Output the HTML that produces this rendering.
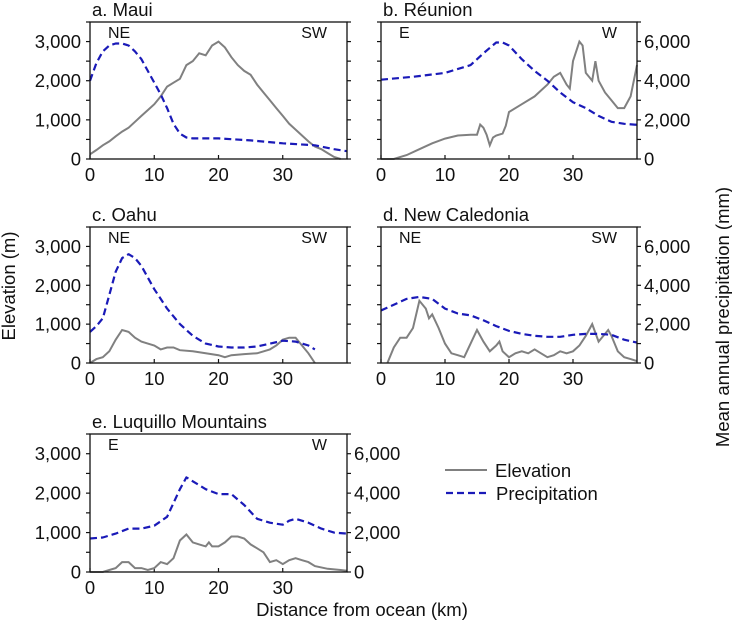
<!DOCTYPE html>
<html><head><meta charset="utf-8"><style>
body{margin:0;background:#fff}
svg{display:block;font-family:"Liberation Sans",sans-serif}
</style></head><body>
<svg id="c" width="732" height="625" viewBox="0 0 732 625"></svg>
<script>
// Panel data: distance (km), elevation (m), precipitation (mm)
const aDist=[0,1,2,3,4,5,6,7,8,9,10,11,12,13,14,15,16,17,18,19,20,21,22,23,24,25,26,27,28,29,30,31,32,33,34,35,36,37,38,39];
const aElev=[120,230,350,450,580,700,800,950,1100,1250,1400,1600,1850,1950,2050,2400,2500,2700,2650,2900,3000,2850,2600,2400,2250,2150,1900,1700,1500,1300,1100,900,750,600,450,320,250,150,50,0];
const aPDist=[0,1,2,3,4,5,6,7,8,9,10,11,12,13,14,15,16,20,25,30,35,38,40];
const aPrec=[4000,4900,5500,5800,5900,5900,5800,5500,5100,4500,3900,3300,2600,1800,1300,1100,1050,1050,950,800,700,500,400];

const bDist=[0,2,4,6,8,10,12,14,15,15.5,16,16.5,17,17.5,18,19,19.5,20,22,24,26,27,28,29,29.5,30,31,31.5,32,33,33.5,34,35,36,37,38,39,40];
const bElev=[0,0,100,250,400,520,600,620,620,880,800,620,350,550,600,650,850,1200,1400,1600,1900,2100,2200,1900,1800,2500,3000,2900,2200,2000,2500,2000,1700,1500,1300,1300,1600,2400];
const bPDist=[0,5,10,14,16,18,19,20,22,24,26,28,30,32,34,36,38,40];
const bPrec=[4050,4200,4400,4800,5400,5950,5950,5800,5100,4500,4000,3400,2900,2600,2200,1900,1800,1750];

const cDist=[0,1,2,3,4,5,6,7,8,9,10,11,12,13,14,16,18,20,21,22,24,26,28,29,30,31,32,33,34,35];
const cElev=[0,100,150,300,600,850,800,650,550,500,450,350,400,400,330,300,250,200,150,200,230,250,350,450,600,650,650,450,250,0];
const cPDist=[0,1,2,3,4,5,6,7,8,9,10,12,14,16,18,20,22,24,26,28,30,32,34,35];
const cPrec=[1600,1900,2300,3500,4700,5400,5600,5400,5000,4400,3800,2800,2000,1400,1000,850,800,800,850,1000,1150,1100,900,700];

const dDist=[1,2,3,4,5,6,7,7.5,8,9,10,11,12,13,14,15,16,17,18,18.5,19,20,21,22,23,24,25,26,27,28,29,30,31,32,33,34,35,35.5,36,37,38,39,40];
const dElev=[0,400,650,650,900,1600,1400,1150,1250,900,500,250,200,150,500,850,550,300,450,550,300,150,250,300,250,350,250,150,200,300,250,300,450,700,1000,550,750,850,700,300,150,100,50];
const dPDist=[0,2,4,6,8,10,12,14,16,18,20,22,24,26,28,30,32,34,36,38,40];
const dPrec=[2700,3000,3300,3400,3300,2800,2550,2450,2200,1900,1650,1500,1400,1350,1350,1450,1500,1500,1450,1200,1050];

const eDist=[0,2,3,4,5,6,7,8,9,10,11,12,13,14,15,16,17,18,18.5,19,20,21,22,23,24,25,26,27,28,29,30,31,32,33,34,35,37,39,40];
const eElev=[0,0,50,100,250,250,100,100,50,100,250,200,350,800,950,750,700,650,750,650,650,750,900,900,850,700,600,500,250,300,200,300,350,300,250,150,80,50,30];
const ePDist=[0,2,4,6,8,10,12,14,15,16,18,20,22,24,26,28,30,31,32,34,36,38,40];
const ePrec=[1700,1750,1950,2200,2200,2350,2800,4200,4800,4600,4200,3950,3950,3400,2700,2500,2400,2600,2700,2500,2200,2000,1950];

const xTicks=[0,10,20,30];
const elevLabels=[0,1000,2000,3000];
const precLabels=[0,2000,4000,6000];

const NS='http://www.w3.org/2000/svg';
const svg=document.getElementById('c');
function mk(tag,attrs,parent){const e=document.createElementNS(NS,tag);for(const k in attrs)e.setAttribute(k,attrs[k]);(parent||svg).appendChild(e);return e;}

const FS=18.5;
const panels=[
 {id:'maui',title:'a. Maui',x0:90,x1:347,y0:22,y1:159,d:aDist,e:aElev,pd:aPDist,p:aPrec,left:true,right:false,l:'NE',r:'SW'},
 {id:'reunion',title:'b. Réunion',x0:381,x1:637,y0:22,y1:159,d:bDist,e:bElev,pd:bPDist,p:bPrec,left:false,right:true,l:'E',r:'W'},
 {id:'oahu',title:'c. Oahu',x0:90,x1:347,y0:227,y1:363,d:cDist,e:cElev,pd:cPDist,p:cPrec,left:true,right:false,l:'NE',r:'SW'},
 {id:'new-caledonia',title:'d. New Caledonia',x0:381,x1:637,y0:227,y1:363,d:dDist,e:dElev,pd:dPDist,p:dPrec,left:false,right:true,l:'NE',r:'SW'},
 {id:'luquillo',title:'e. Luquillo Mountains',x0:90,x1:347,y0:434,y1:572,d:eDist,e:eElev,pd:ePDist,p:ePrec,left:true,right:true,l:'E',r:'W'}
];

panels.forEach(P=>{
 const g=mk('g',{});
 
 
 const h=P.y1-P.y0;
 const xs=v=>P.x0+(v/40)*(P.x1-P.x0);
 const ye=v=>P.y1-v/3500*h;
 const yp=v=>P.y1-v/7000*h;
 const t=mk('text',{x:P.x0+2,y:P.y0-6,'font-size':FS,fill:'#111'},g);t.textContent=P.title;
 
 
 for(let v=0;v<=3500;v+=500){
   const y=ye(v);
   mk('line',{x1:P.x0-4,x2:P.x0,y1:y,y2:y,stroke:'#111','stroke-width':1.2},g);
   mk('line',{x1:P.x1,x2:P.x1+4,y1:y,y2:y,stroke:'#111','stroke-width':1.2},g);
 }
 if(P.left) elevLabels.forEach(v=>{const tx=mk('text',{x:P.x0-9,y:ye(v)+6.5,'font-size':FS,'text-anchor':'end',fill:'#111'},g);tx.textContent=v.toLocaleString('en-US');
   
   });
 if(P.right) precLabels.forEach(v=>{const tx=mk('text',{x:P.x1+7,y:yp(v)+6.5,'font-size':FS,fill:'#111'},g);tx.textContent=v.toLocaleString('en-US');
   
   });
 xTicks.forEach(v=>{const x=xs(v);mk('line',{x1:x,x2:x,y1:P.y1-4,y2:P.y1,stroke:'#111','stroke-width':1.2},g);
   const tx=mk('text',{x:x,y:P.y1+22,'font-size':FS,'text-anchor':'middle',fill:'#111'},g);tx.textContent=v;
   
   });
 const ep=P.d.map((v,i)=>xs(v).toFixed(1)+','+ye(P.e[i]).toFixed(1)).join(' ');
 const el=mk('polyline',{points:ep,fill:'none',stroke:'#808080','stroke-width':2},g);
 
 
 const pp=P.pd.map((v,i)=>xs(v).toFixed(1)+','+yp(P.p[i]).toFixed(1)).join(' ');
 const pl=mk('polyline',{points:pp,fill:'none',stroke:'#1a1ab8','stroke-width':2.2,'stroke-dasharray':'7,4','stroke-linejoin':'round'},g);
 
 
 mk('rect',{x:P.x0,y:P.y0,width:P.x1-P.x0,height:h,fill:'none',stroke:'#111','stroke-width':1.3},g);
 const lt=mk('text',{x:P.x0+18,y:P.y0+16,'font-size':16,fill:'#111'},g);lt.textContent=P.l;
 
 
 const rt=mk('text',{x:P.x1-20,y:P.y0+16,'font-size':16,'text-anchor':'end',fill:'#111'},g);rt.textContent=P.r;
 
 
});
</script>
<svg style="position:absolute;left:0;top:0" width="732" height="625">
 <text transform="translate(15,286) rotate(-90)" text-anchor="middle" font-size="18.5" font-family="Liberation Sans, sans-serif" fill="#111">Elevation (m)</text>
 <text transform="translate(729,317) rotate(-90)" text-anchor="middle" font-size="18.5" font-family="Liberation Sans, sans-serif" fill="#111">Mean annual precipitation (mm)</text>
 <text x="362" y="616" text-anchor="middle" font-size="18.5" font-family="Liberation Sans, sans-serif" fill="#111">Distance from ocean (km)</text>
 <g font-family="Liberation Sans, sans-serif" font-size="18.5" fill="#111">
  <line x1="445" x2="487" y1="470" y2="470" stroke="#808080" stroke-width="2"/>
  <text x="495" y="477">Elevation</text>
  <line x1="446" x2="488" y1="493" y2="493" stroke="#1a1ab8" stroke-width="2.2" stroke-dasharray="7,4"/>
  <text x="496" y="500">Precipitation</text>
 </g>
</svg>
</body></html>
